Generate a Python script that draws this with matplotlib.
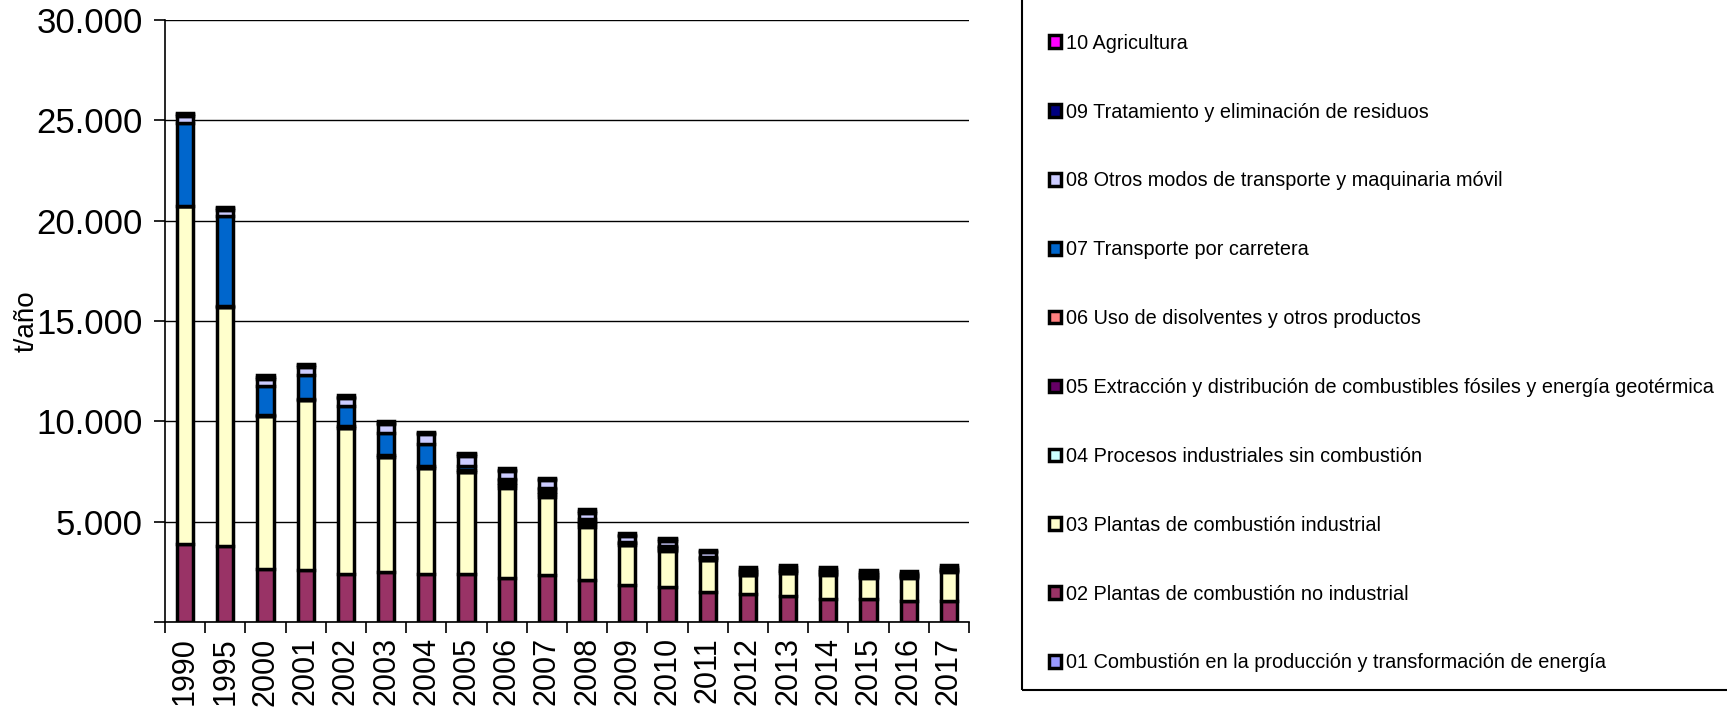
import matplotlib
matplotlib.use('Agg')
import matplotlib.pyplot as plt
from matplotlib.patches import Rectangle
import numpy as np

plt.rcParams['font.family'] = ['Liberation Sans', 'DejaVu Sans']

years = ['1990', '1995', '2000', '2001', '2002', '2003', '2004', '2005', '2006', '2007',
         '2008', '2009', '2010', '2011', '2012', '2013', '2014', '2015', '2016', '2017']

s01 = [0, 0, 0, 0, 0, 0, 0, 0, 0, 0, 0, 0, 0, 0, 0, 0, 0, 0, 0, 0]
s02 = [3900, 3800, 2630, 2570, 2400, 2470, 2400, 2400, 2210, 2330,
       2100, 1850, 1760, 1490, 1410, 1290, 1140, 1140, 1040, 1040]
s03 = [16800, 11900, 7650, 8500, 7280, 5750, 5270, 5070, 4470, 3890,
       2630, 1980, 1760, 1610, 920, 1140, 1190, 1040, 1140, 1430]
s04 = [0, 0, 0, 0, 0, 0, 0, 0, 130, 140, 130, 0, 80, 0, 0, 0, 70, 70, 60, 60]
s05 = [30, 30, 50, 50, 80, 80, 80, 100, 130, 140,
       130, 120, 80, 100, 80, 90, 70, 70, 60, 60]
s06 = [0, 0, 0, 0, 0, 0, 0, 0, 120, 140, 120, 0, 80, 0, 70, 0, 60, 60, 60, 60]
s07 = [4150, 4500, 1450, 1200, 1000, 1100, 1110, 180, 40, 40,
       40, 20, 20, 20, 10, 10, 0, 0, 0, 0]
s08 = [350, 300, 350, 400, 400, 470, 490, 520, 420, 370,
       300, 290, 250, 250, 60, 80, 20, 10, 10, 10]
s09 = [80, 80, 80, 80, 70, 60, 70, 90, 70, 60,
       90, 90, 90, 70, 90, 120, 90, 110, 90, 90]
s10 = [70, 70, 70, 70, 60, 60, 60, 80, 60, 50,
       80, 80, 80, 60, 80, 110, 80, 110, 90, 90]

labels = ['01 Combustión en la producción y transformación de energía',
          '02 Plantas de combustión no industrial',
          '03 Plantas de combustión industrial',
          '04 Procesos industriales sin combustión',
          '05 Extracción y distribución de combustibles fósiles y energía geotérmica',
          '06 Uso de disolventes y otros productos',
          '07 Transporte por carretera',
          '08 Otros modos de transporte y maquinaria móvil',
          '09 Tratamiento y eliminación de residuos',
          '10 Agricultura']
colors = ['#9999FF', '#993366', '#FFFFCC', '#CCFFFF', '#660066',
          '#FF8080', '#0066CC', '#CCCCFF', '#000080', '#FF00FF']
series = [s01, s02, s03, s04, s05, s06, s07, s08, s09, s10]

W, H = 1727, 707
fig = plt.figure(figsize=(W / 100, H / 100), dpi=100)
ax = fig.add_axes([165 / W, 1 - 622 / H, (969 - 165) / W, (622 - 19.8) / H])

x = np.arange(len(years))
bottom = np.zeros(len(years))
handles = []
for vals, col, lab in zip(series, colors, labels):
    v = np.array(vals, dtype=float)
    b = ax.bar(x, v, 0.4, bottom=bottom, color=col, edgecolor='black',
               linewidth=2.5, label=lab, zorder=3)
    bottom += v
    handles.append(b)

ax.set_xlim(-0.5, len(years) - 0.5)
ax.set_ylim(0, 30000)
yt = list(range(0, 30001, 5000))
ax.set_yticks(yt)
ax.set_yticklabels(['' if v == 0 else f'{v:,}'.replace(',', '.') for v in yt])
ax.yaxis.grid(True, color='black', linewidth=1.0)
ax.set_axisbelow(True)
for s in ['top', 'right']:
    ax.spines[s].set_visible(False)
for s in ['left', 'bottom']:
    ax.spines[s].set_linewidth(1.2)
    ax.spines[s].set_color('black')

ax.tick_params(axis='y', direction='out', length=8, width=1.2, pad=8, labelsize=25)
ax.set_xticks(x)
ax.set_xticklabels(years, rotation=90, fontsize=22)
ax.tick_params(axis='x', which='major', length=0, pad=11)
ax.set_xticks(np.arange(-0.5, len(years), 1), minor=True)
ax.tick_params(axis='x', which='minor', direction='out', length=8, width=1.2)

ax.set_ylabel('t/año', fontsize=20)
ax.yaxis.set_label_coords(-0.156, 0.5)

leg = ax.legend(handles[::-1], labels[::-1], loc='upper left',
                bbox_to_anchor=(1049 / W, 1 - 33.7 / H), bbox_transform=fig.transFigure,
                frameon=False, fontsize=14.3, labelspacing=2.51, handlelength=0.6,
                handleheight=0.6, handletextpad=0.25, borderaxespad=0, borderpad=0)

fig.patches.append(Rectangle((1022 / W, 1 - 690 / H), 1.0, 1.0, transform=fig.transFigure,
                             fill=False, edgecolor='black', linewidth=1.5))

fig.savefig('out.png', dpi=100)
